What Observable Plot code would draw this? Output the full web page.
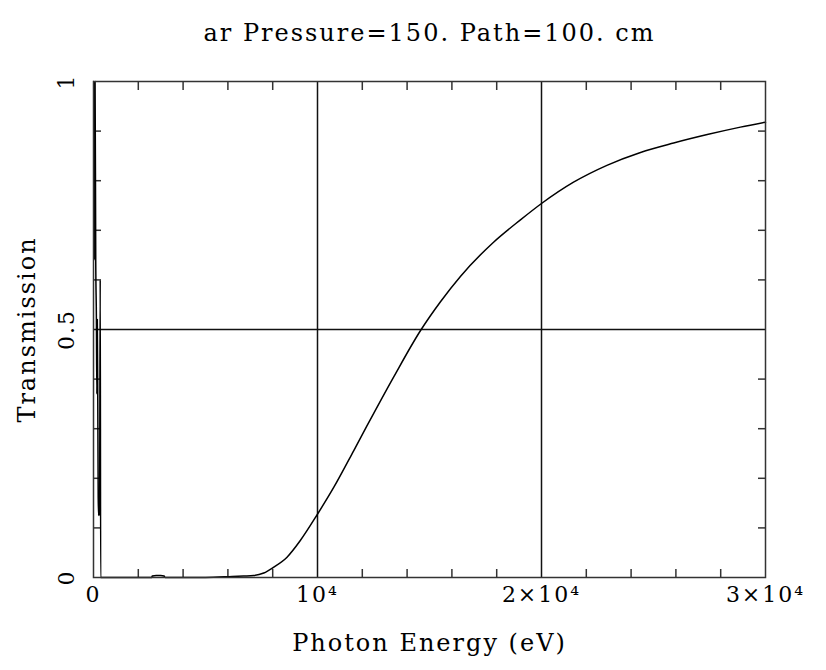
<!DOCTYPE html>
<html>
<head>
<meta charset="utf-8">
<script src="https://cdn.jsdelivr.net/npm/d3@7"></script>
<script src="https://cdn.jsdelivr.net/npm/@observablehq/plot@0.6"></script>
<style>
  html, body { margin: 0; padding: 0; background: #fff; }
</style>
</head>
<body>
<div id="chart"></div>
<script>
const title = "ar Pressure=150. Path=100. cm";
const xLabel = "Photon Energy (eV)";
const yLabel = "Transmission";

// Photon energy (eV) and transmission
const energy = [
  10, 40, 70, 100, 130, 150, 170, 190, 210, 230, 250, 270, 300, 320,
  600, 1500, 2600, 2620, 2800, 3000, 3150, 3200, 3220,
  5000, 6190, 6700, 7150, 7600, 8050, 8640, 9240, 9990, 10730, 11620, 12200,
  13410, 14600, 15490, 16380, 17860, 19060, 20000, 21430, 22920, 24420,
  25900, 27400, 28880, 30000
];
const transmission = [
  1.0, 0.64, 1.0, 0.64, 0.52, 0.37, 0.52, 0.37, 0.16, 0.125, 0.16, 0.125, 0.6, 0.0,
  0.0, 0.0, 0.0, 0.003, 0.004, 0.004, 0.003, 0.0, 0.0,
  0.0, 0.002, 0.003, 0.004, 0.009, 0.021, 0.041, 0.075, 0.127, 0.182, 0.256, 0.305,
  0.405, 0.498, 0.556, 0.607, 0.676, 0.721, 0.754, 0.797, 0.831, 0.857,
  0.876, 0.893, 0.908, 0.918
];

const xMajorTicks = [0, 10000, 20000, 30000];
const xMajorLabels = ["0", "10\u2074", "2\u00d710\u2074", "3\u00d710\u2074"];
const xGrid = [10000, 20000];
const xMinorTicks = [2000, 4000, 6000, 8000, 12000, 14000, 16000, 18000, 22000, 24000, 26000, 28000];
const yMajorTicks = [0, 0.5, 1];
const yMajorLabels = ["0", "0.5", "1"];
const yGrid = [0.5];
const yMinorTicks = [0.1, 0.2, 0.3, 0.4, 0.6, 0.7, 0.8, 0.9];

const data = energy.map((e, i) => ({e, t: transmission[i]}));
const font = "'DejaVu Serif', serif";

const chart = Plot.plot({
  width: 826,
  height: 670,
  marginLeft: 93,
  marginRight: 61,
  marginTop: 81,
  marginBottom: 93,
  style: {fontFamily: font, fontSize: "20px", color: "#000", background: "#fff", letterSpacing: "2px"},
  x: {domain: [0, 30000], axis: null},
  y: {domain: [0, 1], axis: null},
  marks: [
    Plot.ruleX(xGrid, {stroke: "#111", strokeWidth: 1.5}),
    Plot.ruleY(yGrid, {stroke: "#111", strokeWidth: 1.5}),
    Plot.axisX(xMinorTicks, {anchor: "bottom", tickSize: -8, tickFormat: () => "", stroke: "#333", strokeWidth: 1.5, label: null}),
    Plot.axisX(xMinorTicks, {anchor: "top", tickSize: -8, tickFormat: () => "", stroke: "#333", strokeWidth: 1.5, label: null}),
    Plot.axisY(yMinorTicks, {anchor: "left", tickSize: -8, tickFormat: () => "", stroke: "#333", strokeWidth: 1.5, label: null}),
    Plot.axisY(yMinorTicks, {anchor: "right", tickSize: -8, tickFormat: () => "", stroke: "#333", strokeWidth: 1.5, label: null}),
    Plot.line(data, {x: "e", y: "t", stroke: "#000", strokeWidth: 1.5, curve: "monotone-x"}),
    Plot.frame({stroke: "#333", strokeWidth: 1.5}),
    Plot.text(xMajorTicks, {x: d => d, text: (d, i) => xMajorLabels[i], frameAnchor: "bottom", dy: 24, fontSize: 22, fill: "#000"}),
    Plot.text(yMajorTicks, {y: d => d, text: (d, i) => yMajorLabels[i], frameAnchor: "left", textAnchor: "middle", dx: -27, rotate: -90, fontSize: 22, fill: "#000"}),
    Plot.text([xLabel], {frameAnchor: "bottom", dy: 73, fontSize: 24, fill: "#000"}),
    Plot.text([yLabel], {frameAnchor: "left", textAnchor: "middle", dx: -66, rotate: -90, fontSize: 24, fill: "#000"}),
    Plot.text([title], {frameAnchor: "top", dy: -58, fontSize: 24, fill: "#000"})
  ]
});
document.getElementById("chart").appendChild(chart);
</script>
</body>
</html>
